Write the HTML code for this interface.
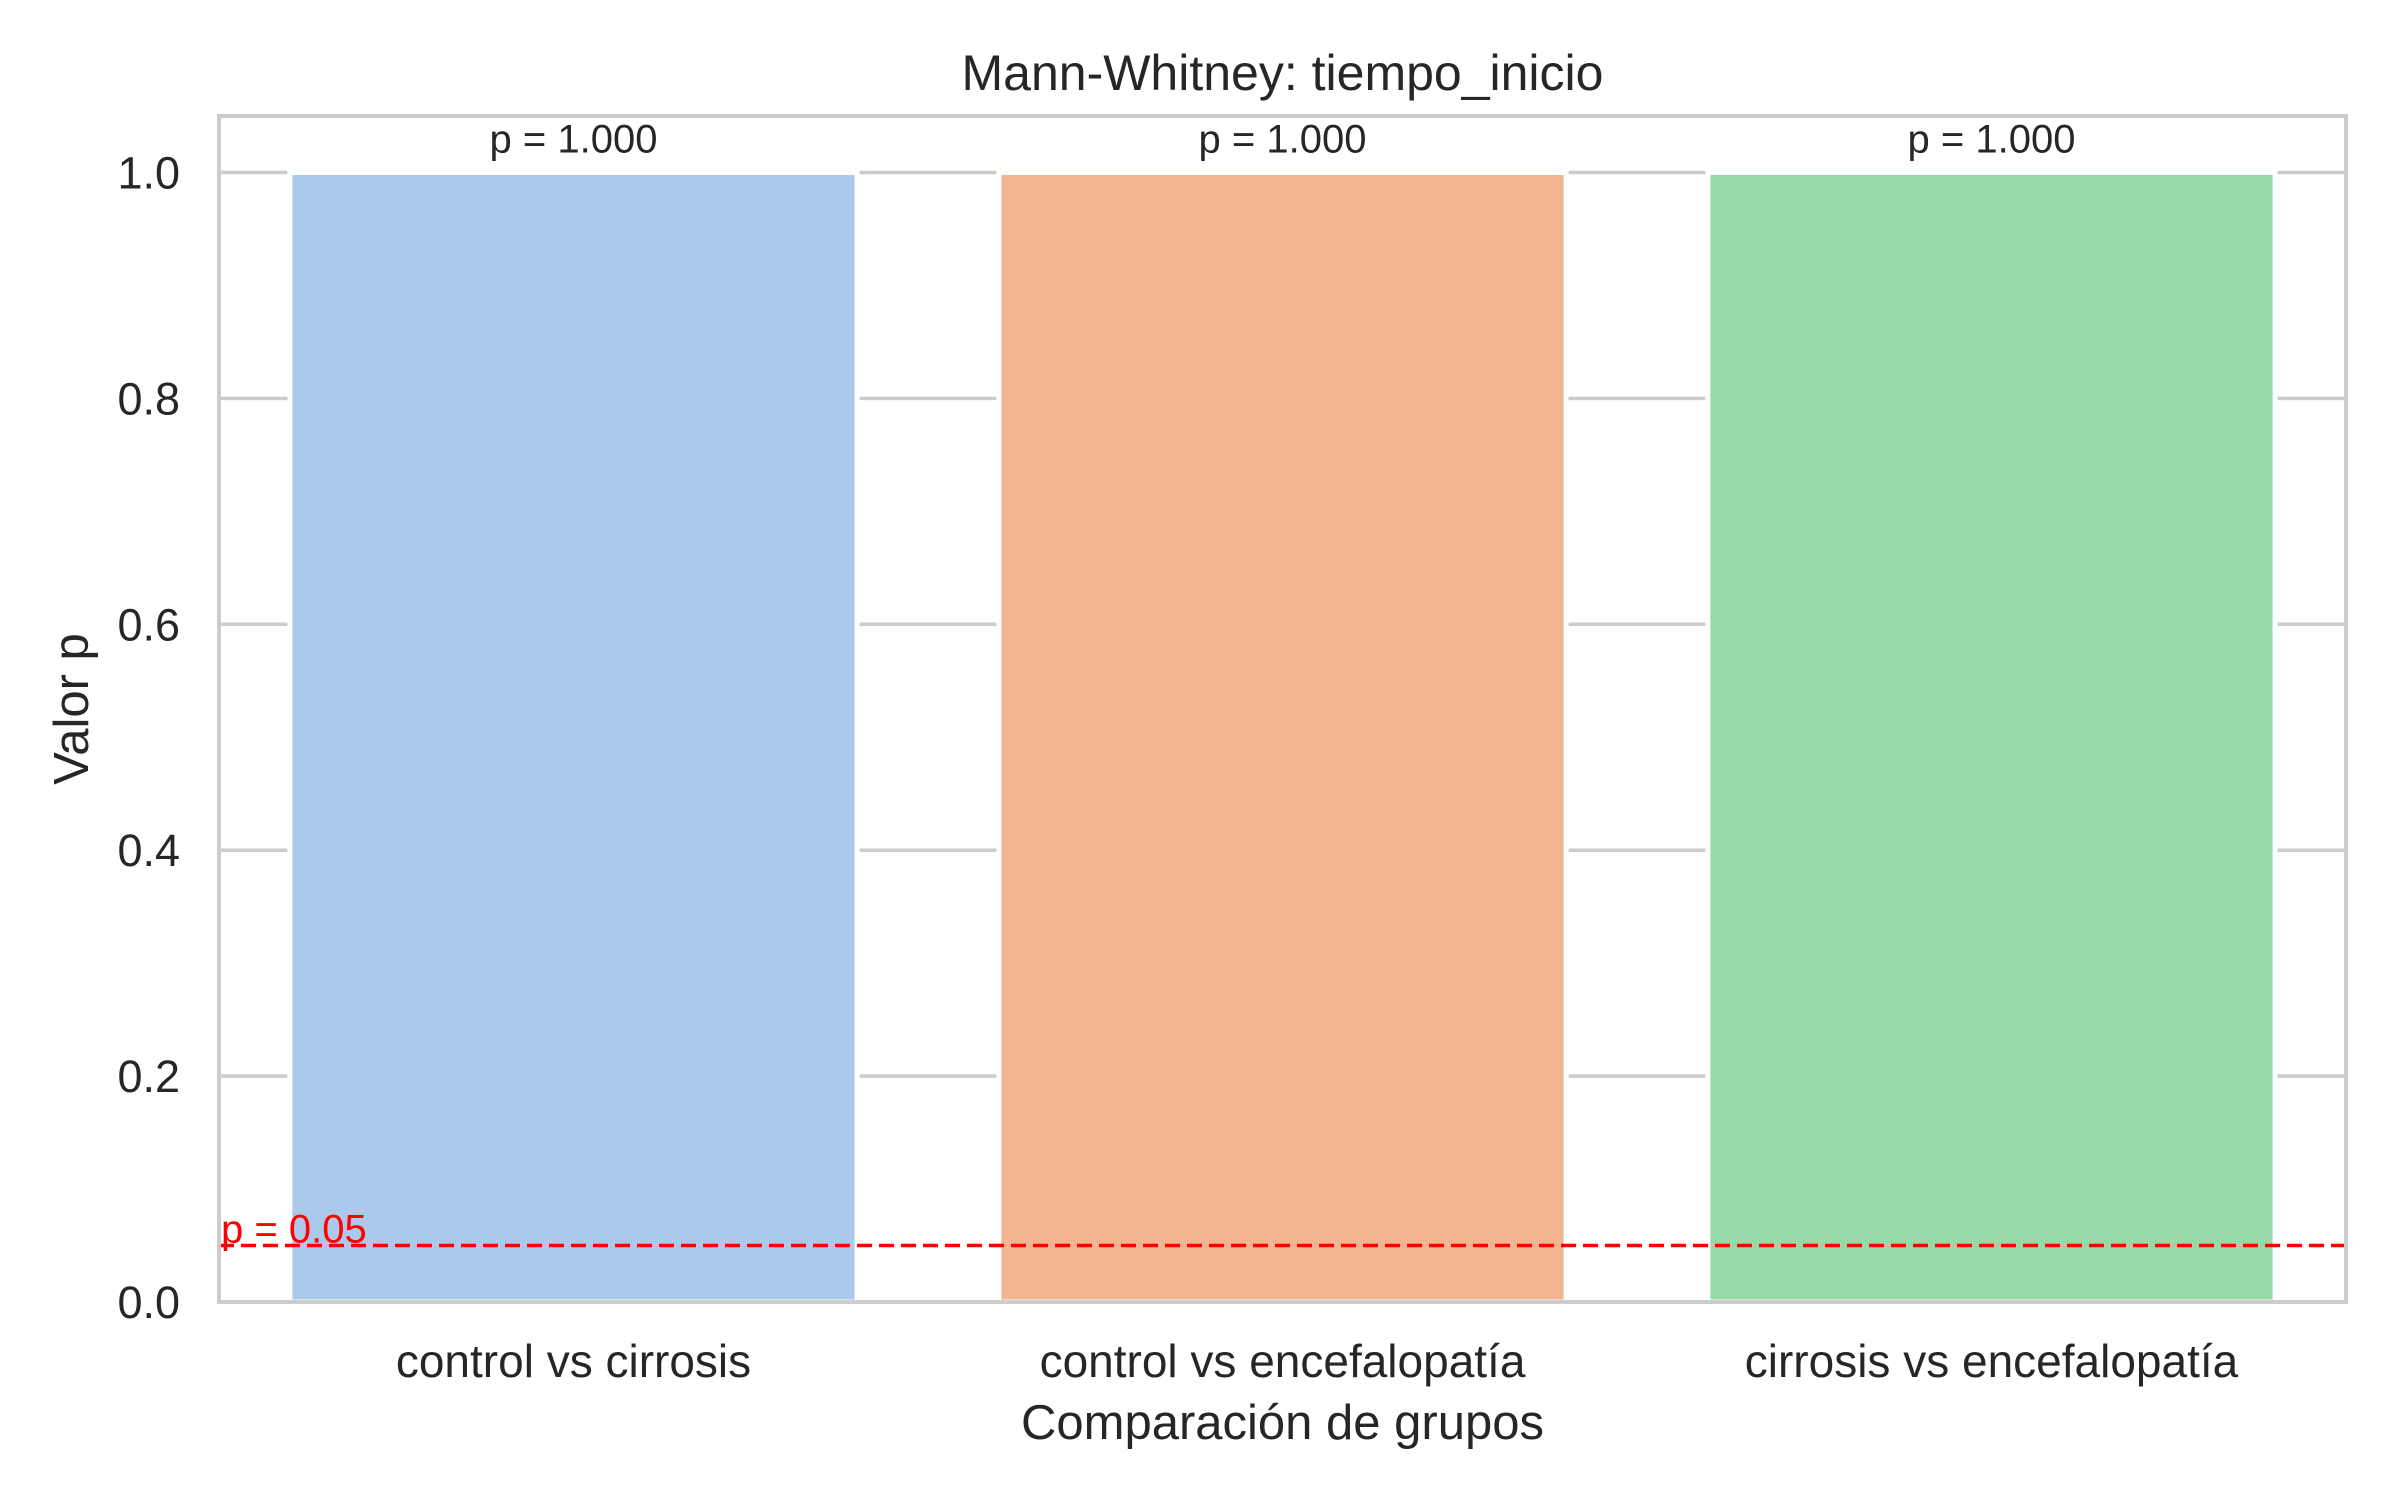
<!DOCTYPE html>
<html><head><meta charset="utf-8"><style>
html,body{margin:0;padding:0;background:#fff;}
svg{display:block;font-family:"Liberation Sans",Arial,sans-serif;}
</style></head><body>
<svg id="chart" width="2400" height="1500" viewBox="0 0 2400 1500" xmlns="http://www.w3.org/2000/svg">
<rect width="2400" height="1500" fill="#fff"/>
<g id="grid"></g><g id="bars"></g><g id="overlay"></g>
</svg>
<script>
const categories = ["control vs cirrosis", "control vs encefalopatía", "cirrosis vs encefalopatía"];
const pValues = [1.0, 1.0, 1.0];
const barColors = ["#abc9ea", "#f1b690", "#98d9a8"];
const yTicks = [0.0, 0.2, 0.4, 0.6, 0.8, 1.0];
const threshold = 0.05;

const L = 219, R = 2346, T = 116, B = 1302;
const yMax = 1.05;
const NS = "http://www.w3.org/2000/svg";
const step = (R - L) / categories.length;
function xS(i){ return L + step * (i + 0.5); }
function yS(v){ return B - (B - T) * v / yMax; }
function mk(tag, attrs, parent, text){
  const e = document.createElementNS(NS, tag);
  for (const k in attrs) e.setAttribute(k, attrs[k]);
  if (text !== undefined) e.textContent = text;
  parent.appendChild(e); return e;
}
const grid = document.getElementById('grid');
const bars = document.getElementById('bars');
const ov = document.getElementById('overlay');

yTicks.forEach(t => {
  const y = yS(t);
  const g = mk('line', {x1:L, x2:R, y1:y, y2:y, stroke:'#cccccc', 'stroke-width':3.5}, grid);
  
  
  const lb = mk('text', {x:180, y:y+16, 'text-anchor':'end', 'font-size':45, fill:'#262626'}, ov, t.toFixed(1));
  
  
});

const bw = step * 0.8;
categories.forEach((c, i) => {
  const y = yS(pValues[i]);
  const r = mk('rect', {x:xS(i)-bw/2, y:y, width:bw, height:B-y, fill:barColors[i], stroke:'#fff', 'stroke-width':5}, bars);
  
  
  const a = mk('text', {x:xS(i), y:y-20, 'text-anchor':'middle', 'font-size':40, fill:'#262626'}, ov, 'p = ' + pValues[i].toFixed(3));
  
  
  const xl = mk('text', {x:xS(i), y:1377, 'text-anchor':'middle', 'font-size':46, fill:'#262626'}, ov, c);
  
  
});

const ty = yS(threshold);
const tl = mk('line', {x1:L, x2:R, y1:ty, y2:ty, stroke:'#ff0000', 'stroke-width':3.5, 'stroke-dasharray':'15 7'}, ov);


const tt = mk('text', {x:221, y:ty-3, 'font-size':40, fill:'#ff0000'}, ov, 'p = ' + threshold);



const fr = mk('rect', {x:L, y:T, width:R-L, height:B-T, fill:'none', stroke:'#cccccc', 'stroke-width':4}, ov);



const title = mk('text', {x:(L+R)/2, y:90, 'text-anchor':'middle', 'font-size':50, fill:'#262626'}, ov, 'Mann-Whitney: tiempo_inicio');


const xt = mk('text', {x:(L+R)/2, y:1439, 'text-anchor':'middle', 'font-size':49, fill:'#262626'}, ov, 'Comparación de grupos');


const yt = mk('text', {x:0, y:0, 'text-anchor':'middle', 'font-size':49, fill:'#262626', transform:'translate(88,709) rotate(-90)'}, ov, 'Valor p');


</script>
</body></html>
